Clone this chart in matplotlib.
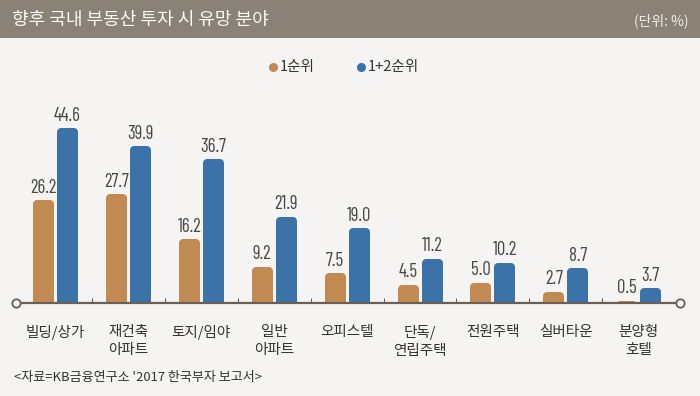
import matplotlib
matplotlib.use('Agg')
import matplotlib.pyplot as plt
from matplotlib.patches import Rectangle
from matplotlib.lines import Line2D
import numpy as np

categories = ['빌딩/상가', '재건축\n아파트', '토지/임야', '일반\n아파트', '오피스텔',
              '단독/\n연립주택', '전원주택', '실버타운', '분양형\n호텔']
first_rank = [26.2, 27.7, 16.2, 9.2, 7.5, 4.5, 5.0, 2.7, 0.5]
first_second_rank = [44.6, 39.9, 36.7, 21.9, 19.0, 11.2, 10.2, 8.7, 3.7]
series_names = ['1순위', '1+2순위']
title = '향후 국내 부동산 투자 시 유망 분야'
unit = '(단위: %)'
source = "<자료=KB금융연구소 '2017 한국부자 보고서>"

KR = ['Noto Sans CJK KR', 'DejaVu Sans']
NUM = ['Barlow Condensed', 'DejaVu Sans']
plt.rcParams['font.family'] = KR

BG = '#f5f4f2'
HEADER = '#8a8277'
ORANGE = '#c08a52'
BLUE = '#3b72a7'
AXC = '#6b5f55'
colors = [ORANGE, BLUE]

W, H = 700, 396
fig = plt.figure(figsize=(7, 3.96), dpi=100)
fig.patch.set_facecolor(BG)
ax = fig.add_axes([0, 0, 1, 1])
ax.set_facecolor('none')
ax.axis('off')

# pixel geometry -> data mapping
x0px, dx = 55.5, 72.9
base_px = H - 302.5
ppu = 3.91
ax.set_xlim((0 - x0px) / dx, (W - x0px) / dx)
ax.set_ylim(-base_px / ppu, (H - base_px) / ppu)


def fx(px):
    return px / W


def fy(py):
    return 1 - py / H


# header band
fig.add_artist(Rectangle((0, fy(38)), 1, 38 / H, transform=fig.transFigure,
                         facecolor=HEADER, edgecolor='none', zorder=0))
fig.text(fx(12), fy(20), title, color='#fbfaf7', fontsize=13, ha='left',
         va='center', family=KR, weight='medium')
fig.text(fx(688), fy(21), unit, color='#f0ede8', fontsize=10, ha='right',
         va='center', family=KR)

# legend
for px, name, c in [(273, series_names[0], ORANGE), (361, series_names[1], BLUE)]:
    fig.add_artist(Line2D([fx(px)], [fy(67)], marker='o', markersize=5.5,
                          color=c, transform=fig.transFigure, linestyle='none'))
    fig.text(fx(px + 7), fy(67), name, color='#333333', fontsize=10.5,
             ha='left', va='center', family=KR)

# bars with rounded tops (rounded stroke joins, clipped at the baseline)
x = np.arange(len(categories))
r_px = 4.0
lw = 2 * r_px * 72 / 100
r_data = r_px / ppu
bar_w_px = 21
inner_w = (bar_w_px - 2 * r_px) / dx
offsets = [-12 / dx, 12 / dx]
clip = Rectangle((-5, 0), 20, 200, transform=ax.transData)
for vals, off, c in zip([first_rank, first_second_rank], offsets, colors):
    vals = np.array(vals)
    # inner rectangle runs from -2r to v - r, so the stroke reaches v
    bars = ax.bar(x + off, vals + r_data, width=inner_w, bottom=-2 * r_data,
                  color=c, edgecolor=c, linewidth=lw, zorder=2)
    for b in bars:
        b.set_joinstyle('round')
        b.set_clip_path(clip)
    for xi, v in zip(x + off, vals):
        ax.annotate(f'{v:.1f}', (xi, v), xytext=(0, 2.5), textcoords='offset points',
                    ha='center', va='bottom', fontsize=13.5, color='#474747',
                    family=NUM, zorder=4)

# axis line with end circles and group ticks
xl, xr = (16 - x0px) / dx, (680 - x0px) / dx
ax.plot([xl, xr], [0, 0], color=AXC, lw=1.6, zorder=3, solid_capstyle='butt')
ax.plot([xl, xr], [0, 0], linestyle='none', marker='o', markersize=6,
        markerfacecolor=BG, markeredgecolor=AXC, markeredgewidth=1.3, zorder=4)
ax.vlines(x[:-1] + 0.5, 0, 5 / ppu, color=AXC, lw=0.8, zorder=3)

# category labels
for xi, cat in zip(x, categories):
    ax.text(xi, -(325 - 302.5) / ppu, cat, ha='center', va='top', fontsize=10.5,
            color='#333333', linespacing=1.38, family=KR)

fig.text(fx(14), fy(377), source, ha='left', va='center', fontsize=9.4,
         color='#333333', family=KR)

fig.savefig('out.png', dpi=100, facecolor=BG)
